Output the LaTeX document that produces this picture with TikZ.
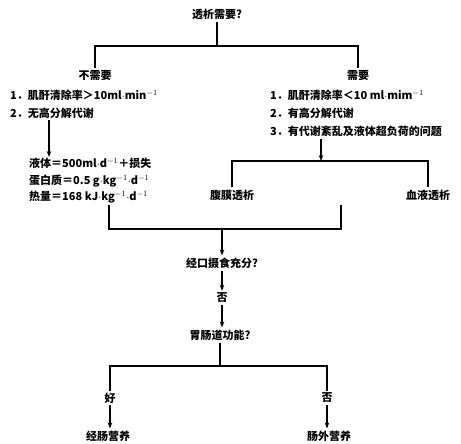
\documentclass[tikz,border=0pt]{standalone}
\usepackage{fontspec}
\setmainfont{Noto Sans CJK SC}
\usetikzlibrary{arrows.meta}

\newcommand{\dotop}{${\cdot}$}

\tikzset{
  line/.style={line width=1.6pt},
  arr/.style={line width=1.2pt,-{Stealth[length=6pt,width=4.5pt]}},
  lbl/.style={inner sep=2pt,font=\fontsize{11}{13}\selectfont\bfseries},
  item/.style={lbl,anchor=west},
}

\begin{document}
\begin{tikzpicture}[x=1pt,y=-1pt]
  \useasboundingbox (0,0) rectangle (461,444);

  % first choice
  \node[lbl] (need) at (217,14) {透析需要?};
  \coordinate (split) at (217,46);
  \node[lbl] (no) at (95,75) {不需要};
  \node[lbl] (yes) at (358,75) {需要};
  \draw[line] (need) -- (split);
  \draw[line] (no) |- (split) -| (yes);

  % left column
  \node[item] (l1) at (8,95) {1．肌酐清除率＞10ml\dotop min$^{-1}$};
  \node[item] (l2) at (8,113) {2．无高分解代谢};
  \node[item] (f1) at (27,163) {液体＝500ml\dotop d$^{-1}$＋损失};
  \node[item] (f2) at (27,181) {蛋白质＝0.5 g\dotop kg$^{-1}$\dotop d$^{-1}$};
  \node[item] (f3) at (27,197) {热量＝168 kJ\dotop kg$^{-1}$\dotop d$^{-1}$};
  \coordinate (fdown) at (49,157);
  \draw[arr] (l2.south -| fdown) -- (fdown);

  % right column
  \node[item] (r1) at (268,95) {1．肌酐清除率＜10 ml\dotop mim$^{-1}$};
  \node[item] (r2) at (268,113) {2．有高分解代谢};
  \node[item] (r3) at (268,131) {3．有代谢紊乱及液体超负荷的问题};
  \coordinate (dsplit) at (321,161);
  \draw[arr] (r3.south -| dsplit) -- (dsplit);
  \node[lbl] (pd) at (232,195) {腹膜透析};
  \node[lbl] (hd) at (428,195) {血液透析};
  \draw[line] (pd) |- (dsplit) -| (hd);

  % join
  \coordinate (jl) at (109,205);
  \coordinate (jr) at (341,205);
  \coordinate (join) at (222,229);
  \draw[line] (jl) |- (join) -| (jr);
  \node[lbl] (oral) at (222,263) {经口摄食充分?};
  \draw[arr] (join) -- (oral);
  \node[lbl] (no2) at (222,298) {否};
  \draw[arr] (oral) -- (no2);
  \node[lbl] (gi) at (220,335) {胃肠道功能?};
  \draw[arr] (no2) -- (no2 |- gi.north);

  % last choice
  \coordinate (gsplit) at (220,366);
  \draw[line] (gi) -- (gsplit);
  \node[lbl] (good) at (110,398) {好};
  \node[lbl] (bad) at (327,398) {否};
  \draw[line] (good) |- (gsplit) -| (bad);
  \node[lbl] (en) at (108,436) {经肠营养};
  \node[lbl] (pn) at (329,436) {肠外营养};
  \draw[arr] (good) -- (good |- en.north);
  \draw[arr] (bad) -- (bad |- pn.north);
\end{tikzpicture}
\end{document}
